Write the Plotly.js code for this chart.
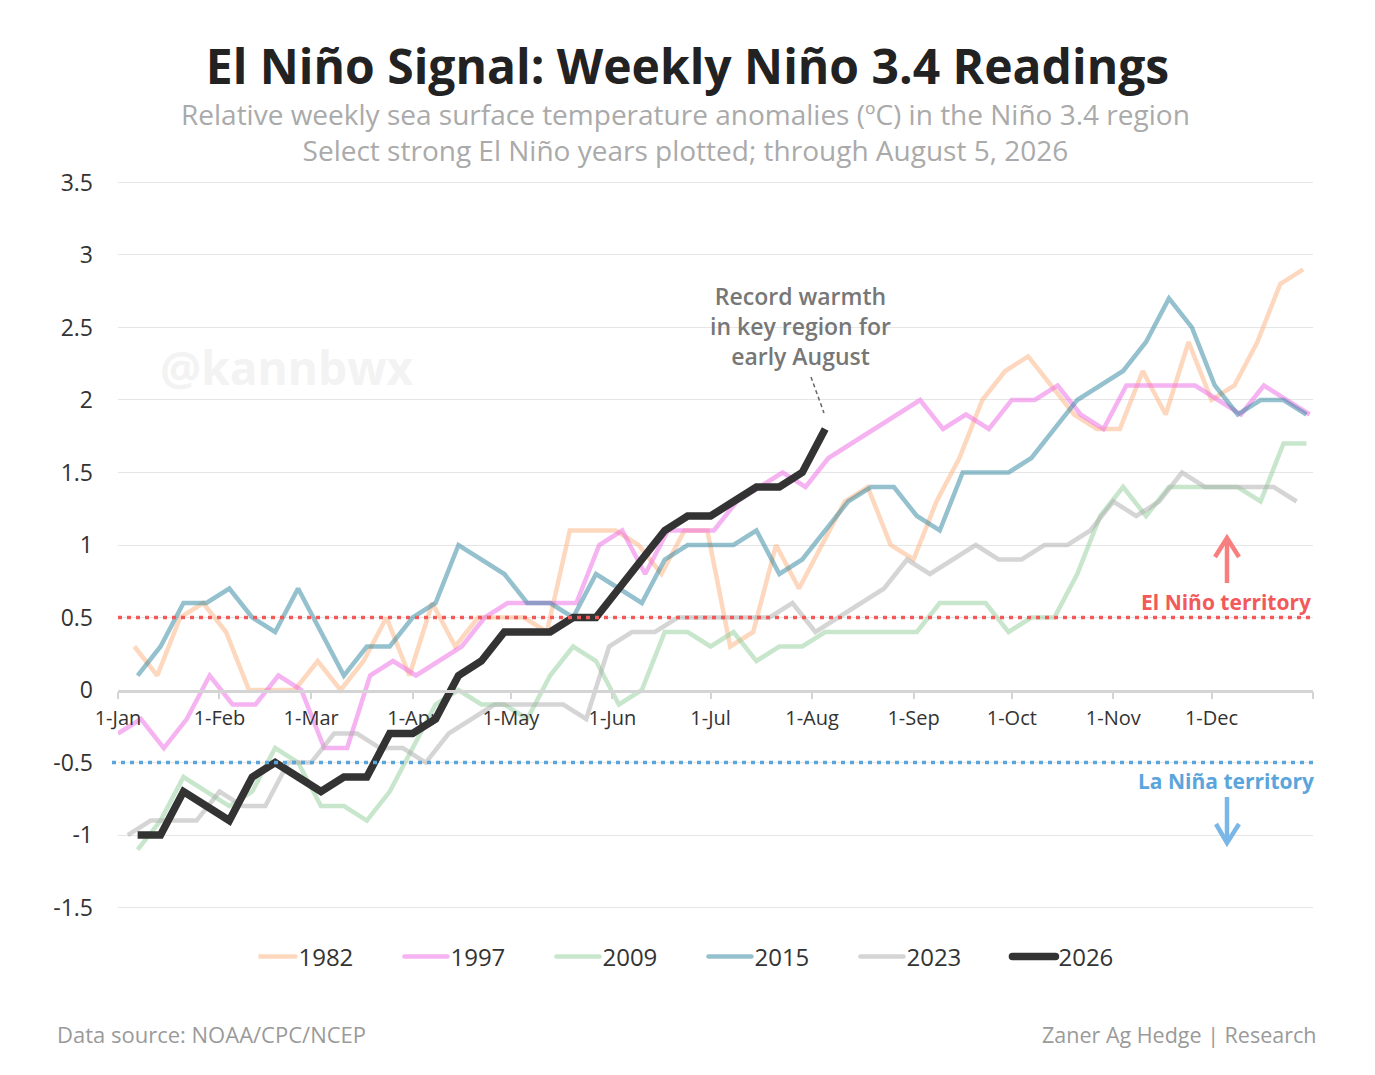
<!DOCTYPE html>
<html><head><meta charset="utf-8">
<script src="https://cdn.plot.ly/plotly-3.0.1.min.js"></script>
<style>html,body{margin:0;padding:0;background:#fff}</style>
</head><body><div id="chart" style="width:1375px;height:1075px"></div>
<script>
// ---- data ----
const seriesNames = ['1982','1997','2009','2015','2023','2026'];
// first weekly reading of each year (mapped onto a common calendar year)
const start1982 = '2026-01-06';
const start1997 = '2026-01-01';
const start2009 = '2026-01-07';
const start2015 = '2026-01-07';
const start2023 = '2026-01-04';
const start2026 = '2026-01-07';
const v1982 = [0.3,0.1,0.5,0.6,0.4,0.0,0.0,0.0,0.2,0.0,
  0.2,0.5,0.1,0.6,0.3,0.5,0.5,0.5,0.4,1.1,
  1.1,1.1,1.0,0.8,1.1,1.1,0.3,0.4,1.0,0.7,
  1.0,1.3,1.4,1.0,0.9,1.3,1.6,2.0,2.2,2.3,
  2.1,1.9,1.8,1.8,2.2,1.9,2.4,2.0,2.1,2.4,
  2.8,2.9];
const v1997 = [-0.3,-0.2,-0.4,-0.2,0.1,-0.1,-0.1,0.1,0.0,-0.4,
  -0.4,0.1,0.2,0.1,0.2,0.3,0.5,0.6,0.6,0.6,
  0.6,1.0,1.1,0.8,1.1,1.1,1.1,1.3,1.4,1.5,
  1.4,1.6,1.7,1.8,1.9,2.0,1.8,1.9,1.8,2.0,
  2.0,2.1,1.9,1.8,2.1,2.1,2.1,2.1,2.0,1.9,
  2.1,2.0,1.9];
const v2009 = [-1.1,-0.9,-0.6,-0.7,-0.8,-0.7,-0.4,-0.5,-0.8,-0.8,
  -0.9,-0.7,-0.4,-0.1,0.0,-0.1,-0.1,-0.2,0.1,0.3,
  0.2,-0.1,0.0,0.4,0.4,0.3,0.4,0.2,0.3,0.3,
  0.4,0.4,0.4,0.4,0.4,0.6,0.6,0.6,0.4,0.5,
  0.5,0.8,1.2,1.4,1.2,1.4,1.4,1.4,1.4,1.3,
  1.7,1.7];
const v2015 = [0.1,0.3,0.6,0.6,0.7,0.5,0.4,0.7,0.4,0.1,
  0.3,0.3,0.5,0.6,1.0,0.9,0.8,0.6,0.6,0.5,
  0.8,0.7,0.6,0.9,1.0,1.0,1.0,1.1,0.8,0.9,
  1.1,1.3,1.4,1.4,1.2,1.1,1.5,1.5,1.5,1.6,
  1.8,2.0,2.1,2.2,2.4,2.7,2.5,2.1,1.9,2.0,
  2.0,1.9];
const v2023 = [-1.0,-0.9,-0.9,-0.9,-0.7,-0.8,-0.8,-0.5,-0.5,-0.3,
  -0.3,-0.4,-0.4,-0.5,-0.3,-0.2,-0.1,-0.1,-0.1,-0.1,
  -0.2,0.3,0.4,0.4,0.5,0.5,0.5,0.5,0.5,0.6,
  0.4,0.5,0.6,0.7,0.9,0.8,0.9,1.0,0.9,0.9,
  1.0,1.0,1.1,1.3,1.2,1.3,1.5,1.4,1.4,1.4,
  1.4,1.3];
const v2026 = [-1.0,-1.0,-0.7,-0.8,-0.9,-0.6,-0.5,-0.6,-0.7,-0.6,
  -0.6,-0.3,-0.3,-0.2,0.1,0.2,0.4,0.4,0.4,0.5,
  0.5,0.7,0.9,1.1,1.2,1.2,1.3,1.4,1.4,1.5,
  1.8];
const monthTicks = ['2026-01-01','2026-02-01','2026-03-01','2026-04-01','2026-05-01','2026-06-01',
  '2026-07-01','2026-08-01','2026-09-01','2026-10-01','2026-11-01','2026-12-01','2027-01-01'];
const monthLabels = ['1-Jan','1-Feb','1-Mar','1-Apr','1-May','1-Jun','1-Jul','1-Aug','1-Sep','1-Oct','1-Nov','1-Dec',''];
const yTicks = [-1.5,-1,-0.5,0,0.5,1,1.5,2,2.5,3,3.5];
const yLabels = ['-1.5','-1','-0.5','0','0.5','1','1.5','2','2.5','3','3.5'];
const elNinoThreshold = 0.5, laNinaThreshold = -0.5;

// ---- helpers ----
function weekly(start, n) {
  const d0 = new Date(start + 'T00:00:00Z');
  const out = [];
  for (let i = 0; i < n; i++) {
    const d = new Date(d0.getTime() + i * 7 * 86400000);
    out.push(d.toISOString().slice(0, 10));
  }
  return out;
}
const FONT = '"Open Sans", "Noto Sans", sans-serif';
const L = 118, R = 1313, T = 181, B = 909;
const px = x => (x - L) / (R - L);
const py = y => (B - y) / (B - T);

const styles = {
  '1982': {color: 'rgba(251,178,126,0.5)', width: 4.5},
  '1997': {color: 'rgba(238,104,228,0.5)', width: 4.5},
  '2009': {color: 'rgba(144,206,154,0.5)', width: 4.5},
  '2015': {color: 'rgba(44,132,158,0.5)', width: 4.5},
  '2023': {color: 'rgba(172,172,172,0.5)', width: 4.5},
  '2026': {color: '#333333', width: 7.5}
};
const vals = {'1982': v1982, '1997': v1997, '2009': v2009, '2015': v2015, '2023': v2023, '2026': v2026};
const starts = {'1982': start1982, '1997': start1997, '2009': start2009, '2015': start2015, '2023': start2023, '2026': start2026};

const traces = seriesNames.map(name => ({
  type: 'scatter', mode: 'lines', name: name,
  x: weekly(starts[name], vals[name].length), y: vals[name],
  line: {color: styles[name].color, width: styles[name].width},
  hoverinfo: 'x+y+name'
}));

const ann = (text, x, y, opts) => Object.assign({
  text, x: px(x), y: py(y), xref: 'paper', yref: 'paper', showarrow: false,
  xanchor: 'center', yanchor: 'middle'
}, opts);

const layout = {
  width: 1375, height: 1075,
  margin: {l: L, r: 1375 - R, t: T, b: 1075 - B},
  paper_bgcolor: '#fff', plot_bgcolor: '#fff',
  font: {family: FONT, color: '#333'},
  title: {text: '<b>El Niño Signal: Weekly Niño 3.4 Readings</b>', xref: 'container', x: 0.5, xanchor: 'center',
          yref: 'container', y: 1 - 67 / 1075, yanchor: 'middle', font: {family: FONT, size: 48, color: '#222'}},
  xaxis: {type: 'date', range: ['2026-01-01', '2027-01-01'], anchor: 'free', position: 0.3,
          showline: true, linecolor: '#d4d4d4', linewidth: 2.5, ticks: 'outside', ticklen: 7, tickwidth: 2,
          tickcolor: '#d4d4d4', tickvals: monthTicks, ticktext: monthLabels, showgrid: false, zeroline: false,
          ticklabelstandoff: 2, tickfont: {size: 20, color: '#333'}, fixedrange: true},
  yaxis: {range: [-1.51, 3.51], tickvals: yTicks, ticktext: yLabels, showgrid: true, gridcolor: '#e6e6e6',
          gridwidth: 1.2, zeroline: false, showline: false, ticks: '', ticklabelstandoff: 24,
          tickfont: {size: 23, color: '#333'}, fixedrange: true},
  showlegend: true,
  legend: {orientation: 'h', xref: 'container', yref: 'container', x: 0.5196, xanchor: 'center',
           y: 1 - 957 / 1075, yanchor: 'middle', font: {size: 24, color: '#333'},
           entrywidth: 107, entrywidthmode: 'pixels', traceorder: 'normal'},
  shapes: [
    {type: 'line', xref: 'paper', x0: 0, x1: 1, yref: 'y', y0: elNinoThreshold, y1: elNinoThreshold,
     line: {color: '#f25a5a', width: 3.5, dash: '4px,5px'}, layer: 'above'},
    {type: 'line', xref: 'paper', x0: px(112), x1: px(1316), yref: 'y', y0: laNinaThreshold, y1: laNinaThreshold,
     line: {color: '#5aa5dc', width: 3.5, dash: '4px,5px'}, layer: 'above'},
    // up arrow (El Niño)
    {type: 'path', xref: 'paper', yref: 'paper', path: `M${px(1227)},${py(583)} L${px(1227)},${py(540)}`,
     line: {color: '#f77f7f', width: 4.5}},
    {type: 'path', xref: 'paper', yref: 'paper', path: `M${px(1215)},${py(557)} L${px(1227)},${py(538)} L${px(1239)},${py(557)}`,
     line: {color: '#f77f7f', width: 4.5}},
    // down arrow (La Niña)
    {type: 'path', xref: 'paper', yref: 'paper', path: `M${px(1227)},${py(797)} L${px(1227)},${py(840)}`,
     line: {color: '#7ab6e6', width: 4.5}},
    {type: 'path', xref: 'paper', yref: 'paper', path: `M${px(1216)},${py(824)} L${px(1227)},${py(843)} L${px(1239)},${py(824)}`,
     line: {color: '#7ab6e6', width: 4.5}},
    // leader line for annotation
    {type: 'line', xref: 'paper', yref: 'paper', x0: px(811), y0: py(377), x1: px(824), y1: py(413),
     line: {color: '#666', width: 1.5, dash: '4px,3px'}}
  ],
  annotations: [
    ann('Relative weekly sea surface temperature anomalies (ºC) in the Niño 3.4 region<br>Select strong El Niño years plotted; through August 5, 2026',
        685, 132, {font: {family: FONT, size: 28, color: '#aaaaaa'}}),
    ann('<b>@kannbwx</b>', 158, 367, {xanchor: 'left', font: {family: FONT, size: 46, color: '#f3f3f3'}}),
    ann('Record warmth<br>in key region for<br>early August', 800, 326,
        {font: {family: FONT, size: 23, color: '#777', weight: 600}}),
    ann('<b>El Niño territory</b>', 1313, 602, {xanchor: 'right', font: {family: FONT, size: 21, color: '#f25a5a'}}),
    ann('<b>La Niña territory</b>', 1316, 781, {xanchor: 'right', font: {family: FONT, size: 21, color: '#5aa5dc'}}),
    ann('Data source: NOAA/CPC/NCEP', 55, 1034, {xanchor: 'left', font: {family: FONT, size: 22, color: '#9a9a9a'}}),
    ann('Zaner Ag Hedge | Research', 1318, 1034, {xanchor: 'right', font: {family: FONT, size: 21.5, color: '#9a9a9a'}})
  ]
};

Plotly.newPlot('chart', traces, layout, {displayModeBar: false}).then(gd => {
  // longer, round-capped legend samples like the reference
  gd.querySelectorAll('.legend .legendlines path').forEach(p => {
    p.setAttribute('d', 'M-6,0h43');
    p.style.strokeLinecap = 'round';
  });
});
</script>
</body></html>
